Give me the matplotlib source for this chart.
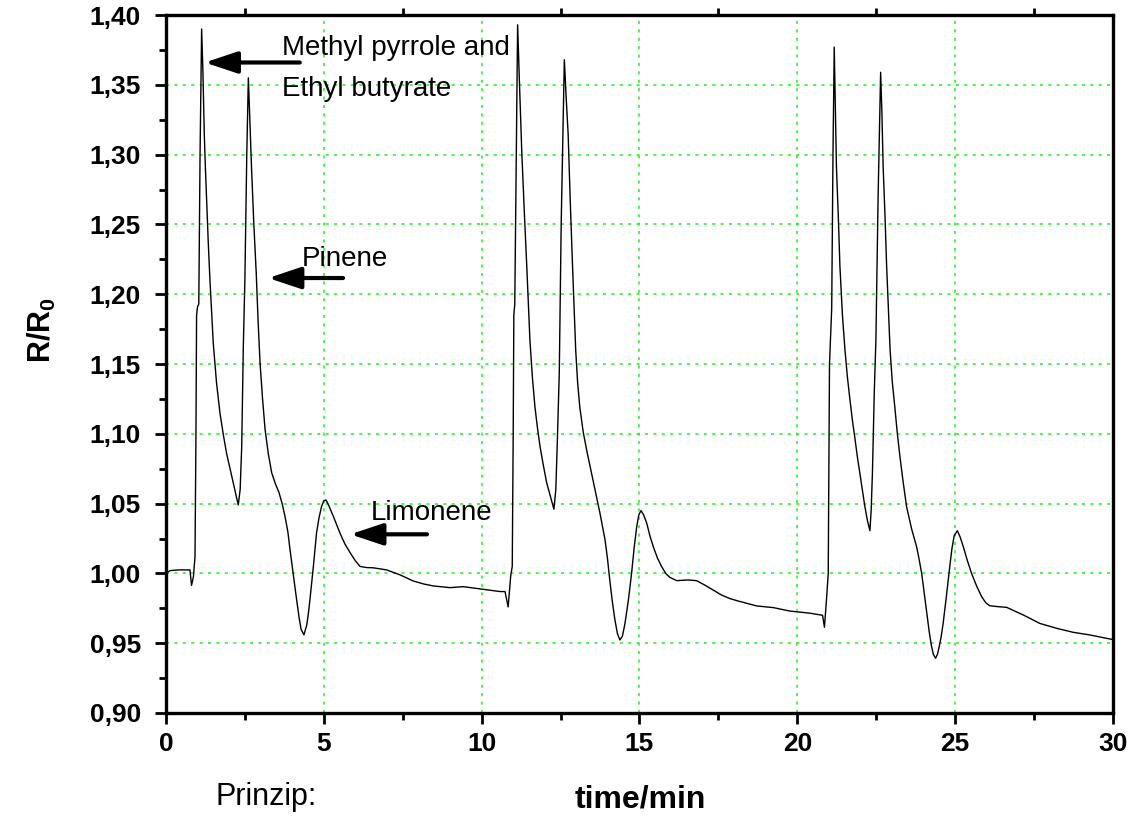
import matplotlib
matplotlib.use('Agg')
import matplotlib.pyplot as plt
from matplotlib.ticker import MultipleLocator

plt.rcParams['font.family'] = ['Liberation Sans', 'DejaVu Sans']
plt.rcParams['mathtext.fontset'] = 'custom'
plt.rcParams['mathtext.rm'] = 'Liberation Sans'
plt.rcParams['mathtext.bf'] = 'Liberation Sans:bold'

# sensor response (time in min, R/R0)
time_min = [0.00, 0.13, 0.40, 0.76, 0.81, 0.87, 0.92, 0.95, 0.97, 1.00, 1.04, 1.08, 1.13,
            1.17, 1.213, 1.25, 1.289, 1.34, 1.394, 1.45, 1.498, 1.60, 1.71, 1.82, 1.92, 2.03,
            2.13, 2.22, 2.29, 2.35, 2.40, 2.45, 2.50,
            2.56, 2.61, 2.65, 2.71, 2.78, 2.86, 2.92, 2.98, 3.06, 3.14, 3.24, 3.35, 3.47, 3.58,
            3.68, 3.77, 3.86, 3.93, 4.04, 4.14, 4.22, 4.28, 4.37, 4.46, 4.51, 4.56, 4.67, 4.77,
            4.85, 4.93, 5.00, 5.07, 5.15, 5.30, 5.51, 5.67, 5.83, 6.00, 6.15, 6.35, 6.57, 6.99,
            7.41, 7.83, 8.15, 8.47, 9.00, 9.42, 10.05, 10.58, 10.74, 10.84, 10.92, 10.97,
            11.00, 11.02, 11.05, 11.10, 11.14, 11.20, 11.27, 11.35, 11.43, 11.53, 11.61, 11.69,
            11.77, 11.85, 11.95, 12.06, 12.18, 12.29, 12.35, 12.40, 12.46, 12.52, 12.62, 12.68,
            12.74, 12.81, 12.88, 12.98, 13.04, 13.11, 13.22, 13.33, 13.46, 13.59, 13.75, 13.91,
            13.99, 14.06, 14.14, 14.22, 14.30, 14.38, 14.46, 14.54, 14.65, 14.75, 14.83, 14.91,
            14.98, 15.05, 15.13, 15.23, 15.33, 15.44, 15.57, 15.70, 15.83, 15.96, 16.18, 16.54,
            16.81, 17.08, 17.34, 17.60, 17.86, 18.13, 18.39, 18.71, 19.24, 19.77, 20.40,
            20.80, 20.86, 20.93, 20.98,
            21.02, 21.06, 21.09, 21.13, 21.17, 21.20, 21.24, 21.30, 21.35, 21.43, 21.51, 21.59,
            21.67, 21.75, 21.83, 21.90, 21.98, 22.06, 22.14, 22.22, 22.30, 22.34, 22.38, 22.44,
            22.49, 22.56, 22.64, 22.68, 22.72, 22.78, 22.83, 22.94, 23.01, 23.09, 23.17, 23.25,
            23.35, 23.46, 23.62, 23.78, 23.86, 23.94, 24.02, 24.10, 24.18, 24.25, 24.31, 24.38,
            24.44, 24.50, 24.56, 24.62, 24.72, 24.83, 24.90, 24.97, 25.07, 25.16, 25.26, 25.39,
            25.52, 25.68, 25.84, 25.97, 26.10, 26.35, 26.63, 27.16, 27.68, 28.21, 28.74, 29.27,
            29.95]
ratio = [1.000, 1.002, 1.0025, 1.0025, 0.9914, 0.9976, 1.012, 1.10, 1.185, 1.191, 1.193, 1.30, 1.390,
         1.36, 1.3155, 1.29, 1.267, 1.237, 1.210, 1.186, 1.165, 1.137, 1.115, 1.099, 1.086, 1.075,
         1.065, 1.056, 1.049, 1.06, 1.091, 1.162, 1.210,
         1.30, 1.355, 1.33, 1.291, 1.252, 1.215, 1.180, 1.151, 1.125, 1.103, 1.086, 1.072, 1.064, 1.058,
         1.050, 1.041, 1.030, 1.017, 0.998, 0.981, 0.968, 0.960, 0.956, 0.963, 0.971, 0.981, 1.005, 1.029,
         1.040, 1.048, 1.052, 1.0526, 1.049, 1.041, 1.029, 1.021, 1.015, 1.009, 1.005, 1.0042, 1.004, 1.0025,
         0.999, 0.9946, 0.9925, 0.991, 0.9898, 0.9905, 0.9886, 0.987, 0.987, 0.976, 0.998, 1.005,
         1.10, 1.185, 1.193, 1.30, 1.393, 1.35, 1.303, 1.26, 1.220, 1.167, 1.140, 1.119,
         1.104, 1.091, 1.078, 1.065, 1.055, 1.046, 1.06, 1.096, 1.144, 1.25, 1.368, 1.34,
         1.315, 1.265, 1.220, 1.160, 1.137, 1.119, 1.101, 1.088, 1.074, 1.060, 1.043, 1.024,
         1.010, 0.995, 0.980, 0.967, 0.957, 0.9523, 0.955, 0.964, 0.981, 1.000, 1.018, 1.033,
         1.042, 1.045, 1.042, 1.036, 1.027, 1.019, 1.011, 1.005, 1.000, 0.9972, 0.9948, 0.9953,
         0.9948, 0.9915, 0.988, 0.9845, 0.982, 0.9802, 0.9786, 0.9767, 0.9755, 0.973, 0.9715,
         0.970, 0.9614, 0.983, 1.000,
         1.15, 1.174, 1.19, 1.30, 1.377, 1.34, 1.291, 1.255, 1.220, 1.185, 1.160, 1.140,
         1.124, 1.109, 1.096, 1.084, 1.072, 1.060, 1.048, 1.038, 1.0306, 1.045, 1.072, 1.131,
         1.167, 1.27, 1.359, 1.33, 1.291, 1.255, 1.220, 1.160, 1.137, 1.119, 1.100, 1.084,
         1.066, 1.048, 1.032, 1.019, 1.010, 1.000, 0.986, 0.9714, 0.958, 0.948, 0.942, 0.9392,
         0.942, 0.948, 0.955, 0.9642, 0.983, 1.005, 1.018, 1.027, 1.0306, 1.026, 1.019, 1.009,
         1.000, 0.991, 0.9833, 0.979, 0.9768, 0.9762, 0.9757, 0.9702, 0.9642, 0.9607, 0.9578, 0.9559,
         0.9528]

x_ticks = [0, 5, 10, 15, 20, 25, 30]
y_ticks = [0.90, 0.95, 1.00, 1.05, 1.10, 1.15, 1.20, 1.25, 1.30, 1.35, 1.40]
y_ticklabels = ['0,90', '0,95', '1,00', '1,05', '1,10', '1,15', '1,20', '1,25', '1,30', '1,35', '1,40']

# annotations: label, text position (left, vertical centre), arrow tail, arrow head
notes = [
    ('Methyl pyrrole and\nEthyl butyrate', (3.67, 1.362), (4.24, 1.366), (1.23, 1.366)),
    ('Pinene', (4.31, 1.225), (5.61, 1.2116), (3.24, 1.2116)),
    ('Limonene', (6.49, 1.043), (8.27, 1.028), (5.84, 1.028)),
]

fig = plt.figure(figsize=(11.29, 8.17), dpi=100)
ax = fig.add_axes([0.147, 0.1273, 0.8388, 0.8543])

ax.plot(time_min, ratio, color='black', lw=1.0)

ax.set_xlim(0, 30)
ax.set_ylim(0.90, 1.40)
ax.set_xticks(x_ticks)
ax.xaxis.set_minor_locator(MultipleLocator(2.5))
ax.set_yticks(y_ticks)
ax.set_yticklabels(y_ticklabels)
ax.yaxis.set_minor_locator(MultipleLocator(0.025))

for lab in ax.get_xticklabels() + ax.get_yticklabels():
    lab.set_fontweight('bold')
    lab.set_fontsize(19)

ax.tick_params(which='major', direction='out', length=8, width=2, pad=6)
ax.tick_params(axis='y', which='major', pad=10)
ax.tick_params(which='minor', direction='out', length=5, width=2)
ax.tick_params(which='minor', top=True)
for s in ax.spines.values():
    s.set_linewidth(2.4)

ax.grid(True, which='major', color='#22ee22', linestyle=(0, (2, 3.5)), lw=1.1)

for label, txt_pos, tail, head in notes:
    ax.text(txt_pos[0], txt_pos[1], label, fontsize=20, va='center', ha='left', linespacing=1.75)
    ax.annotate('', xy=head, xytext=tail,
                arrowprops=dict(arrowstyle='-|>,head_length=0.9,head_width=0.3',
                                lw=3, color='black', mutation_scale=22,
                                shrinkA=0, shrinkB=0))

fig.text(42 / 1129, 1 - 330 / 817, r'$\mathbf{R/R_0}$', rotation=90,
         fontsize=22, ha='center', va='center')
fig.text(640 / 1129, 1 - 800 / 817, 'time/min', fontsize=23, fontweight='bold',
         ha='center', va='center')
fig.text(215 / 1129, 1 - 797 / 817, 'Prinzip:', fontsize=22, ha='left', va='center')

fig.savefig('out.png', dpi=100)
